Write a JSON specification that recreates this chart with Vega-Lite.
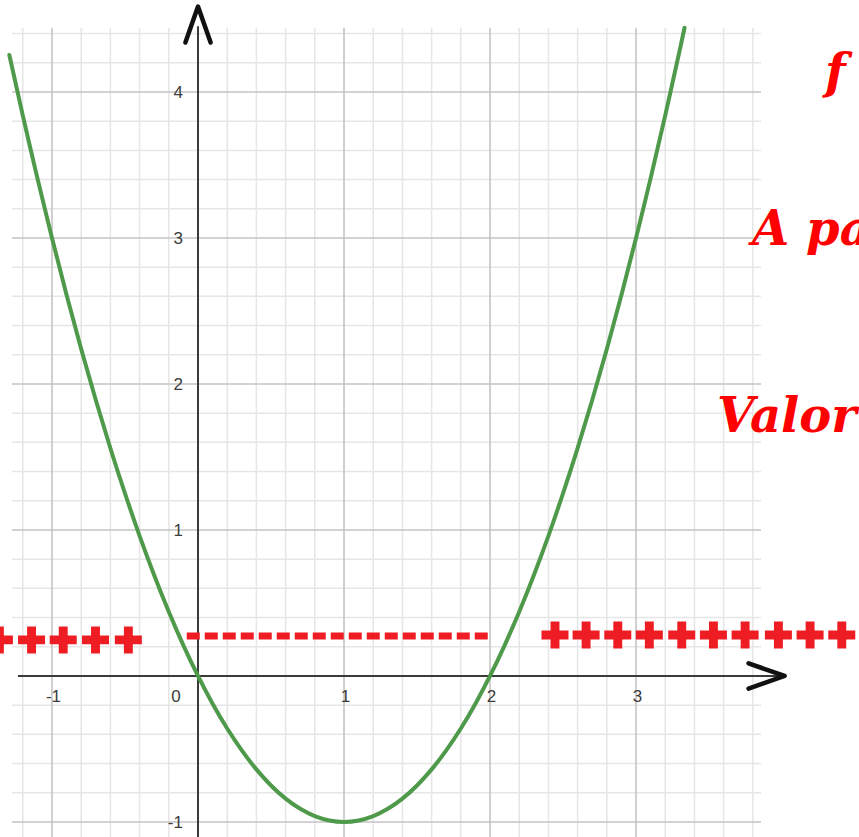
{
  "$schema": "https://vega.github.io/schema/vega-lite/v6.json",
  "width": 859,
  "height": 837,
  "autosize": {"type": "none"},
  "padding": 0,
  "background": "white",
  "config": {"view": {"stroke": null}},
  "datasets": {
    "vgrid": [
      {"x": -1.2, "kind": "minor"}, {"x": -1, "kind": "major"}, {"x": -0.8, "kind": "minor"}, {"x": -0.6, "kind": "minor"},
      {"x": -0.4, "kind": "minor"}, {"x": -0.2, "kind": "minor"}, {"x": 0.2, "kind": "minor"}, {"x": 0.4, "kind": "minor"},
      {"x": 0.6, "kind": "minor"}, {"x": 0.8, "kind": "minor"}, {"x": 1, "kind": "major"}, {"x": 1.2, "kind": "minor"},
      {"x": 1.4, "kind": "minor"}, {"x": 1.6, "kind": "minor"}, {"x": 1.8, "kind": "minor"}, {"x": 2, "kind": "major"},
      {"x": 2.2, "kind": "minor"}, {"x": 2.4, "kind": "minor"}, {"x": 2.6, "kind": "minor"}, {"x": 2.8, "kind": "minor"},
      {"x": 3, "kind": "major"}, {"x": 3.2, "kind": "minor"}, {"x": 3.4, "kind": "minor"}, {"x": 3.6, "kind": "minor"},
      {"x": 3.8, "kind": "minor"}
    ],
    "hgrid": [
      {"y": -1, "kind": "major"}, {"y": -0.8, "kind": "minor"}, {"y": -0.6, "kind": "minor"}, {"y": -0.4, "kind": "minor"},
      {"y": -0.2, "kind": "minor"}, {"y": 0.2, "kind": "minor"}, {"y": 0.4, "kind": "minor"}, {"y": 0.6, "kind": "minor"},
      {"y": 0.8, "kind": "minor"}, {"y": 1, "kind": "major"}, {"y": 1.2, "kind": "minor"}, {"y": 1.4, "kind": "minor"},
      {"y": 1.6, "kind": "minor"}, {"y": 1.8, "kind": "minor"}, {"y": 2, "kind": "major"}, {"y": 2.2, "kind": "minor"},
      {"y": 2.4, "kind": "minor"}, {"y": 2.6, "kind": "minor"}, {"y": 2.8, "kind": "minor"}, {"y": 3, "kind": "major"},
      {"y": 3.2, "kind": "minor"}, {"y": 3.4, "kind": "minor"}, {"y": 3.6, "kind": "minor"}, {"y": 3.8, "kind": "minor"},
      {"y": 4, "kind": "major"}, {"y": 4.2, "kind": "minor"}, {"y": 4.4, "kind": "minor"}
    ],
    "axes": [
      {"x": 0, "x2": 0, "y": -1.103, "y2": 4.45},
      {"x": -1.233, "x2": 3.99, "y": 0, "y2": 0}
    ],
    "xlabels": [
      {"x": -1, "label": "-1"}, {"x": 1, "label": "1"}, {"x": 2, "label": "2"}, {"x": 3, "label": "3"}
    ],
    "ylabels": [
      {"y": -1, "label": "-1"}, {"y": 1, "label": "1"}, {"y": 2, "label": "2"}, {"y": 3, "label": "3"}, {"y": 4, "label": "4"}
    ],
    "origin": [{"x": 0, "y": 0, "label": "0"}],
    "curve": [
      {"x": -1.292, "y": 4.253}, {"x": -1.2, "y": 3.84}, {"x": -1.1, "y": 3.41}, {"x": -1.0, "y": 3.0},
      {"x": -0.9, "y": 2.61}, {"x": -0.8, "y": 2.24}, {"x": -0.7, "y": 1.89}, {"x": -0.6, "y": 1.56},
      {"x": -0.5, "y": 1.25}, {"x": -0.4, "y": 0.96}, {"x": -0.3, "y": 0.69}, {"x": -0.2, "y": 0.44},
      {"x": -0.1, "y": 0.21}, {"x": 0.0, "y": 0.0}, {"x": 0.1, "y": -0.19}, {"x": 0.2, "y": -0.36},
      {"x": 0.3, "y": -0.51}, {"x": 0.4, "y": -0.64}, {"x": 0.5, "y": -0.75}, {"x": 0.6, "y": -0.84},
      {"x": 0.7, "y": -0.91}, {"x": 0.8, "y": -0.96}, {"x": 0.9, "y": -0.99}, {"x": 1.0, "y": -1.0},
      {"x": 1.1, "y": -0.99}, {"x": 1.2, "y": -0.96}, {"x": 1.3, "y": -0.91}, {"x": 1.4, "y": -0.84},
      {"x": 1.5, "y": -0.75}, {"x": 1.6, "y": -0.64}, {"x": 1.7, "y": -0.51}, {"x": 1.8, "y": -0.36},
      {"x": 1.9, "y": -0.19}, {"x": 2.0, "y": 0.0}, {"x": 2.1, "y": 0.21}, {"x": 2.2, "y": 0.44},
      {"x": 2.3, "y": 0.69}, {"x": 2.4, "y": 0.96}, {"x": 2.5, "y": 1.25}, {"x": 2.6, "y": 1.56},
      {"x": 2.7, "y": 1.89}, {"x": 2.8, "y": 2.24}, {"x": 2.9, "y": 2.61}, {"x": 3.0, "y": 3.0},
      {"x": 3.1, "y": 3.41}, {"x": 3.2, "y": 3.84}, {"x": 3.3, "y": 4.29}, {"x": 3.332, "y": 4.44}
    ],
    "dash": [{"x": -0.077, "x2": 2.0, "y": 0.274}],
    "plus": [
      {"x": -1.36, "y": 0.247}, {"x": -1.14, "y": 0.247}, {"x": -0.923, "y": 0.247}, {"x": -0.702, "y": 0.247},
      {"x": -0.477, "y": 0.247},
      {"x": 2.445, "y": 0.281}, {"x": 2.658, "y": 0.281}, {"x": 2.875, "y": 0.281}, {"x": 3.091, "y": 0.281},
      {"x": 3.313, "y": 0.281}, {"x": 3.53, "y": 0.281}, {"x": 3.747, "y": 0.281}, {"x": 3.975, "y": 0.281},
      {"x": 4.192, "y": 0.281}, {"x": 4.409, "y": 0.281}
    ],
    "notes": [
      {"x": 4.295, "y": 4.027, "label": "f"},
      {"x": 3.795, "y": 2.952, "label": "A pa"},
      {"x": 3.555, "y": 1.671, "label": "Valor"}
    ],
    "arrows": [
      {"x": 0, "y": 4.462, "dir": "up"},
      {"x": 3.894, "y": 0, "dir": "right"}
    ]
  },
  "layer": [
    {
      "data": {"name": "vgrid"},
      "transform": [{"filter": "datum.kind == 'minor'"}],
      "mark": {"type": "rule", "strokeWidth": 1.5, "color": "#e6e6e6"},
      "encoding": {
        "x": {"field": "x", "type": "quantitative", "scale": {"domain": [-1.356, 4.527], "nice": false, "zero": false}, "axis": null},
        "y": {"datum": -1.103, "type": "quantitative", "scale": {"domain": [-1.103, 4.63], "nice": false, "zero": false}, "axis": null},
        "y2": {"datum": 4.44}
      }
    },
    {
      "data": {"name": "hgrid"},
      "transform": [{"filter": "datum.kind == 'minor'"}],
      "mark": {"type": "rule", "strokeWidth": 1.5, "color": "#e6e6e6"},
      "encoding": {
        "y": {"field": "y", "type": "quantitative", "scale": {"domain": [-1.103, 4.63], "nice": false, "zero": false}, "axis": null},
        "x": {"datum": -1.274, "type": "quantitative", "scale": {"domain": [-1.356, 4.527], "nice": false, "zero": false}, "axis": null},
        "x2": {"datum": 3.856}
      }
    },
    {
      "data": {"name": "vgrid"},
      "transform": [{"filter": "datum.kind == 'major'"}],
      "mark": {"type": "rule", "strokeWidth": 1.6, "color": "#c4c4c4"},
      "encoding": {
        "x": {"field": "x", "type": "quantitative", "scale": {"domain": [-1.356, 4.527], "nice": false, "zero": false}, "axis": null},
        "y": {"datum": -1.103, "type": "quantitative", "scale": {"domain": [-1.103, 4.63], "nice": false, "zero": false}, "axis": null},
        "y2": {"datum": 4.44}
      }
    },
    {
      "data": {"name": "hgrid"},
      "transform": [{"filter": "datum.kind == 'major'"}],
      "mark": {"type": "rule", "strokeWidth": 1.6, "color": "#c4c4c4"},
      "encoding": {
        "y": {"field": "y", "type": "quantitative", "scale": {"domain": [-1.103, 4.63], "nice": false, "zero": false}, "axis": null},
        "x": {"datum": -1.274, "type": "quantitative", "scale": {"domain": [-1.356, 4.527], "nice": false, "zero": false}, "axis": null},
        "x2": {"datum": 3.856}
      }
    },
    {
      "data": {"name": "axes"},
      "mark": {"type": "rule", "strokeWidth": 2, "color": "#3a3a3a"},
      "encoding": {
        "x": {"field": "x", "type": "quantitative", "scale": {"domain": [-1.356, 4.527], "nice": false, "zero": false}, "axis": null},
        "x2": {"field": "x2"},
        "y": {"field": "y", "type": "quantitative", "scale": {"domain": [-1.103, 4.63], "nice": false, "zero": false}, "axis": null},
        "y2": {"field": "y2"}
      }
    },
    {
      "data": {"name": "xlabels"},
      "mark": {"type": "text", "fontSize": 17, "font": "Liberation Sans", "color": "#3c3c3c", "align": "center", "baseline": "middle", "dx": 1.5},
      "encoding": {
        "x": {"field": "x", "type": "quantitative", "scale": {"domain": [-1.356, 4.527], "nice": false, "zero": false}, "axis": null},
        "y": {"datum": -0.147, "type": "quantitative", "scale": {"domain": [-1.103, 4.63], "nice": false, "zero": false}, "axis": null},
        "text": {"field": "label"}
      }
    },
    {
      "data": {"name": "ylabels"},
      "mark": {"type": "text", "fontSize": 17, "font": "Liberation Sans", "color": "#3c3c3c", "align": "right", "baseline": "middle", "dy": 1.5},
      "encoding": {
        "y": {"field": "y", "type": "quantitative", "scale": {"domain": [-1.103, 4.63], "nice": false, "zero": false}, "axis": null},
        "x": {"datum": -0.103, "type": "quantitative", "scale": {"domain": [-1.356, 4.527], "nice": false, "zero": false}, "axis": null},
        "text": {"field": "label"}
      }
    },
    {
      "data": {"name": "origin"},
      "mark": {"type": "text", "fontSize": 17, "font": "Liberation Sans", "color": "#3c3c3c", "align": "center", "baseline": "middle", "dx": -22, "dy": 21.5},
      "encoding": {
        "x": {"field": "x", "type": "quantitative", "scale": {"domain": [-1.356, 4.527], "nice": false, "zero": false}, "axis": null},
        "y": {"field": "y", "type": "quantitative", "scale": {"domain": [-1.103, 4.63], "nice": false, "zero": false}, "axis": null},
        "text": {"field": "label"}
      }
    },
    {
      "data": {"name": "curve"},
      "mark": {"type": "line", "strokeWidth": 4, "color": "#4f9a4a", "interpolate": "natural", "strokeCap": "round"},
      "encoding": {
        "x": {"field": "x", "type": "quantitative", "scale": {"domain": [-1.356, 4.527], "nice": false, "zero": false}, "axis": null},
        "y": {"field": "y", "type": "quantitative", "scale": {"domain": [-1.103, 4.63], "nice": false, "zero": false}, "axis": null}
      }
    },
    {
      "data": {"name": "dash"},
      "mark": {"type": "rule", "strokeWidth": 7, "color": "#ee1d23", "strokeDash": [13, 5], "strokeCap": "butt"},
      "encoding": {
        "x": {"field": "x", "type": "quantitative", "scale": {"domain": [-1.356, 4.527], "nice": false, "zero": false}, "axis": null},
        "x2": {"field": "x2"},
        "y": {"field": "y", "type": "quantitative", "scale": {"domain": [-1.103, 4.63], "nice": false, "zero": false}, "axis": null}
      }
    },
    {
      "data": {"name": "plus"},
      "mark": {"type": "point", "filled": true, "opacity": 1, "color": "#ee1d23", "size": 729, "shape": "M-0.33,-1H0.33V-0.33H1V0.33H0.33V1H-0.33V0.33H-1V-0.33H-0.33Z"},
      "encoding": {
        "x": {"field": "x", "type": "quantitative", "scale": {"domain": [-1.356, 4.527], "nice": false, "zero": false}, "axis": null},
        "y": {"field": "y", "type": "quantitative", "scale": {"domain": [-1.103, 4.63], "nice": false, "zero": false}, "axis": null}
      }
    },
    {
      "data": {"name": "notes"},
      "mark": {"type": "text", "font": "DejaVu Serif", "fontWeight": "bold", "fontStyle": "italic", "fontSize": 48, "color": "#ff0000", "align": "left", "baseline": "alphabetic", "clip": true},
      "encoding": {
        "x": {"field": "x", "type": "quantitative", "scale": {"domain": [-1.356, 4.527], "nice": false, "zero": false}, "axis": null},
        "y": {"field": "y", "type": "quantitative", "scale": {"domain": [-1.103, 4.63], "nice": false, "zero": false}, "axis": null},
        "text": {"field": "label"}
      }
    },
    {
      "data": {"name": "arrows"},
      "mark": {"type": "point", "filled": false, "opacity": 1, "color": "#111111", "strokeWidth": 4.5, "size": 1300, "strokeJoin": "round", "strokeCap": "round"},
      "encoding": {
        "x": {"field": "x", "type": "quantitative", "scale": {"domain": [-1.356, 4.527], "nice": false, "zero": false}, "axis": null},
        "y": {"field": "y", "type": "quantitative", "scale": {"domain": [-1.103, 4.63], "nice": false, "zero": false}, "axis": null},
        "shape": {"field": "dir", "type": "nominal", "scale": {"domain": ["up", "right"], "range": ["M-0.7,1L0,-1L0.7,1", "M-1,-0.7L1,0L-1,0.7"]}, "legend": null}
      }
    }
  ]
}
